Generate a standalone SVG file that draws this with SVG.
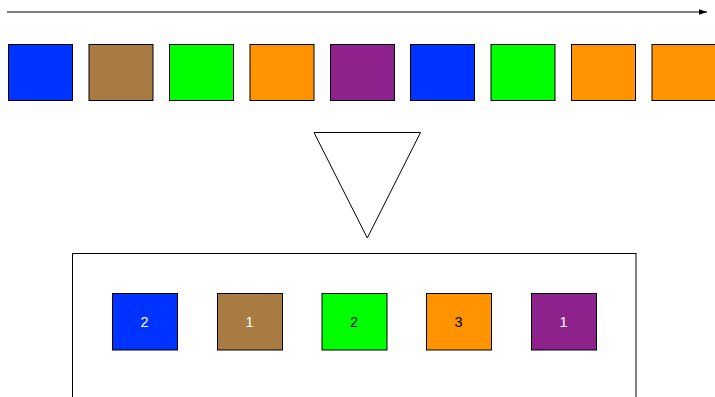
<svg xmlns="http://www.w3.org/2000/svg" width="715" height="397" viewBox="0 0 715 397">
<style>
.sq{stroke:#000;stroke-width:1}
.lbl{font-family:"Liberation Sans",Arial,sans-serif;font-size:14.5px;text-anchor:middle;dominant-baseline:central}
.w{fill:#fff}.k{fill:#000}
.blue{fill:#0033FF}.brown{fill:#A87B43}.green{fill:#00FF00}.orange{fill:#FF9400}.purple{fill:#8E228C}
</style>
<defs>
<marker id="ah" viewBox="0 0 10 10" refX="10" refY="5" markerWidth="8" markerHeight="8" markerUnits="userSpaceOnUse" orient="auto">
<path d="M0,1.5 L10,5 L0,8.5 Z" fill="#000"/>
</marker>
</defs>
<rect width="715" height="397" fill="#fff"/>
<g id="connectors">
<line x1="7" y1="12" x2="707" y2="12" stroke="#000" stroke-width="1" marker-end="url(#ah)"/>
</g>
<g id="top-row">
<rect id="t1" class="sq blue" x="8.5" y="44.5" width="64" height="56"/>
<rect id="t2" class="sq brown" x="89" y="44.5" width="64" height="56"/>
<rect id="t3" class="sq green" x="169.5" y="44.5" width="64" height="56"/>
<rect id="t4" class="sq orange" x="250" y="44.5" width="64" height="56"/>
<rect id="t5" class="sq purple" x="330.5" y="44.5" width="64" height="56"/>
<rect id="t6" class="sq blue" x="410.5" y="44.5" width="64" height="56"/>
<rect id="t7" class="sq green" x="491" y="44.5" width="64" height="56"/>
<rect id="t8" class="sq orange" x="571.5" y="44.5" width="64" height="56"/>
<rect id="t9" class="sq orange" x="652" y="44.5" width="64" height="56"/>
</g>
<g id="funnel">
<polygon points="314,132.5 420.5,132.5 367.3,238" fill="#fff" stroke="#000" stroke-width="1"/>
</g>
<g id="bin">
<rect x="72.5" y="253.5" width="563.5" height="160" fill="#fff" stroke="#000" stroke-width="1"/>
</g>
<g id="b1"><rect class="sq blue" x="112.5" y="293.5" width="65" height="56.5"/><text class="lbl w" x="144.5" y="322">2</text></g>
<g id="b2"><rect class="sq brown" x="217.5" y="293.5" width="65" height="56.5"/><text class="lbl w" x="249.5" y="322">1</text></g>
<g id="b3"><rect class="sq green" x="322" y="293.5" width="65" height="56.5"/><text class="lbl k" x="354" y="322">2</text></g>
<g id="b4"><rect class="sq orange" x="426.5" y="293.5" width="65" height="56.5"/><text class="lbl k" x="458.5" y="322">3</text></g>
<g id="b5"><rect class="sq purple" x="531.5" y="293.5" width="65" height="56.5"/><text class="lbl w" x="563.5" y="322">1</text></g>
</svg>
